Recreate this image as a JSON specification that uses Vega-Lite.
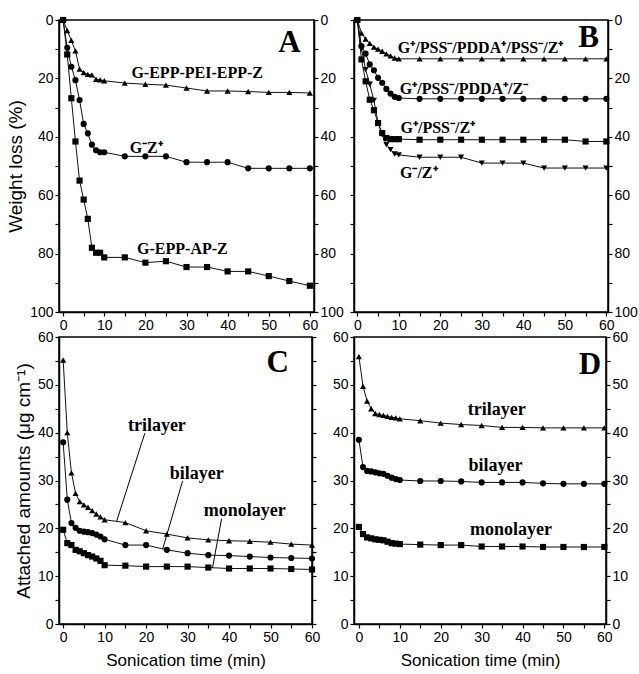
{
  "$schema": "https://vega.github.io/schema/vega-lite/v6.json",
  "background": "white",
  "padding": {"left": 5, "top": 12, "right": 1, "bottom": 5},
  "config": {
    "view": {"stroke": "black", "strokeWidth": 1.5},
    "axis": {
      "grid": false,
      "domainColor": "black",
      "domainWidth": 1.5,
      "tickColor": "black",
      "tickWidth": 1.2,
      "tickSize": 4,
      "labelColor": "black",
      "labelFont": "'Liberation Sans', Arial, sans-serif",
      "labelFontSize": 14,
      "labelPadding": 2,
      "labelFlush": false,
      "titleColor": "black",
      "titleFontWeight": "normal"
    },
    "axisX": {"titleFont": "'Liberation Sans', Arial, sans-serif", "titleFontSize": 17, "titlePadding": 8},
    "axisY": {"titleFont": "'Liberation Sans', Arial, sans-serif", "titleFontSize": 19, "titlePadding": 4}
  },
  "datasets": {
    "A": [
      {"t":0,"v":0,"s":"G-EPP-PEI-EPP-Z"},{"t":1,"v":3.6,"s":"G-EPP-PEI-EPP-Z"},{"t":2,"v":7,"s":"G-EPP-PEI-EPP-Z"},{"t":3,"v":10.6,"s":"G-EPP-PEI-EPP-Z"},{"t":4,"v":16.8,"s":"G-EPP-PEI-EPP-Z"},{"t":5,"v":18,"s":"G-EPP-PEI-EPP-Z"},{"t":6,"v":18.6,"s":"G-EPP-PEI-EPP-Z"},{"t":7,"v":18.8,"s":"G-EPP-PEI-EPP-Z"},{"t":8,"v":20.3,"s":"G-EPP-PEI-EPP-Z"},{"t":9,"v":20.5,"s":"G-EPP-PEI-EPP-Z"},{"t":10,"v":20.8,"s":"G-EPP-PEI-EPP-Z"},{"t":15,"v":21.6,"s":"G-EPP-PEI-EPP-Z"},{"t":20,"v":22,"s":"G-EPP-PEI-EPP-Z"},{"t":25,"v":22.3,"s":"G-EPP-PEI-EPP-Z"},{"t":30,"v":23.3,"s":"G-EPP-PEI-EPP-Z"},{"t":35,"v":24.3,"s":"G-EPP-PEI-EPP-Z"},{"t":40,"v":24.3,"s":"G-EPP-PEI-EPP-Z"},{"t":45,"v":24.5,"s":"G-EPP-PEI-EPP-Z"},{"t":50,"v":24.8,"s":"G-EPP-PEI-EPP-Z"},{"t":55,"v":24.8,"s":"G-EPP-PEI-EPP-Z"},{"t":60,"v":25,"s":"G-EPP-PEI-EPP-Z"},
      {"t":0,"v":0,"s":"G-Z+"},{"t":1,"v":9.5,"s":"G-Z+"},{"t":2,"v":16,"s":"G-Z+"},{"t":3,"v":20.6,"s":"G-Z+"},{"t":4,"v":27.4,"s":"G-Z+"},{"t":5,"v":35.6,"s":"G-Z+"},{"t":6,"v":38.8,"s":"G-Z+"},{"t":7,"v":42.7,"s":"G-Z+"},{"t":8,"v":44.6,"s":"G-Z+"},{"t":9,"v":45.3,"s":"G-Z+"},{"t":10,"v":45.3,"s":"G-Z+"},{"t":15,"v":46.7,"s":"G-Z+"},{"t":20,"v":46.7,"s":"G-Z+"},{"t":25,"v":46.7,"s":"G-Z+"},{"t":30,"v":48.7,"s":"G-Z+"},{"t":35,"v":48.7,"s":"G-Z+"},{"t":40,"v":48.7,"s":"G-Z+"},{"t":45,"v":50.8,"s":"G-Z+"},{"t":50,"v":50.8,"s":"G-Z+"},{"t":55,"v":50.8,"s":"G-Z+"},{"t":60,"v":50.8,"s":"G-Z+"},
      {"t":0,"v":0,"s":"G-EPP-AP-Z"},{"t":1,"v":11.8,"s":"G-EPP-AP-Z"},{"t":2,"v":26.8,"s":"G-EPP-AP-Z"},{"t":3,"v":41.6,"s":"G-EPP-AP-Z"},{"t":4,"v":55,"s":"G-EPP-AP-Z"},{"t":5,"v":61.5,"s":"G-EPP-AP-Z"},{"t":6,"v":68.1,"s":"G-EPP-AP-Z"},{"t":7,"v":78,"s":"G-EPP-AP-Z"},{"t":8,"v":79.7,"s":"G-EPP-AP-Z"},{"t":9,"v":79.7,"s":"G-EPP-AP-Z"},{"t":10,"v":81.3,"s":"G-EPP-AP-Z"},{"t":15,"v":81.3,"s":"G-EPP-AP-Z"},{"t":20,"v":83.1,"s":"G-EPP-AP-Z"},{"t":25,"v":82.6,"s":"G-EPP-AP-Z"},{"t":30,"v":84.6,"s":"G-EPP-AP-Z"},{"t":35,"v":84.6,"s":"G-EPP-AP-Z"},{"t":40,"v":86.1,"s":"G-EPP-AP-Z"},{"t":45,"v":86.1,"s":"G-EPP-AP-Z"},{"t":50,"v":87.7,"s":"G-EPP-AP-Z"},{"t":55,"v":89.4,"s":"G-EPP-AP-Z"},{"t":60,"v":91,"s":"G-EPP-AP-Z"}
    ],
    "B": [
      {"t":0,"v":0,"s":"P5"},{"t":1,"v":4.5,"s":"P5"},{"t":2,"v":6.5,"s":"P5"},{"t":3,"v":8,"s":"P5"},{"t":4,"v":9.3,"s":"P5"},{"t":5,"v":10,"s":"P5"},{"t":6,"v":10.7,"s":"P5"},{"t":7,"v":11.6,"s":"P5"},{"t":8,"v":12.3,"s":"P5"},{"t":9,"v":13,"s":"P5"},{"t":10,"v":13.3,"s":"P5"},{"t":15,"v":13.3,"s":"P5"},{"t":20,"v":13.3,"s":"P5"},{"t":25,"v":13.3,"s":"P5"},{"t":30,"v":13.3,"s":"P5"},{"t":35,"v":13.3,"s":"P5"},{"t":40,"v":13.3,"s":"P5"},{"t":45,"v":13.3,"s":"P5"},{"t":50,"v":13.3,"s":"P5"},{"t":55,"v":13.3,"s":"P5"},{"t":60,"v":13.3,"s":"P5"},
      {"t":0,"v":0,"s":"P4"},{"t":1,"v":8.9,"s":"P4"},{"t":2,"v":11.5,"s":"P4"},{"t":3,"v":15.2,"s":"P4"},{"t":4,"v":17.2,"s":"P4"},{"t":5,"v":19.8,"s":"P4"},{"t":6,"v":21.5,"s":"P4"},{"t":7,"v":23.6,"s":"P4"},{"t":8,"v":25.2,"s":"P4"},{"t":9,"v":26.3,"s":"P4"},{"t":10,"v":26.7,"s":"P4"},{"t":15,"v":27,"s":"P4"},{"t":20,"v":27,"s":"P4"},{"t":25,"v":27,"s":"P4"},{"t":30,"v":27,"s":"P4"},{"t":35,"v":27,"s":"P4"},{"t":40,"v":27,"s":"P4"},{"t":45,"v":27,"s":"P4"},{"t":50,"v":27,"s":"P4"},{"t":55,"v":27,"s":"P4"},{"t":60,"v":27,"s":"P4"},
      {"t":0,"v":0,"s":"P3"},{"t":1,"v":13.5,"s":"P3"},{"t":2,"v":21,"s":"P3"},{"t":3,"v":27.3,"s":"P3"},{"t":4,"v":30.9,"s":"P3"},{"t":5,"v":35.3,"s":"P3"},{"t":6,"v":38.7,"s":"P3"},{"t":7,"v":40.4,"s":"P3"},{"t":8,"v":40.8,"s":"P3"},{"t":9,"v":40.8,"s":"P3"},{"t":10,"v":40.8,"s":"P3"},{"t":15,"v":41,"s":"P3"},{"t":20,"v":41,"s":"P3"},{"t":25,"v":41,"s":"P3"},{"t":30,"v":41,"s":"P3"},{"t":35,"v":41,"s":"P3"},{"t":40,"v":41,"s":"P3"},{"t":45,"v":41,"s":"P3"},{"t":50,"v":41,"s":"P3"},{"t":55,"v":41.6,"s":"P3"},{"t":60,"v":41.6,"s":"P3"},
      {"t":0,"v":0,"s":"GZ"},{"t":1,"v":10,"s":"GZ"},{"t":2,"v":17,"s":"GZ"},{"t":3,"v":22,"s":"GZ"},{"t":4,"v":27.5,"s":"GZ"},{"t":5,"v":35.3,"s":"GZ"},{"t":6,"v":39.3,"s":"GZ"},{"t":7,"v":42.7,"s":"GZ"},{"t":8,"v":44.4,"s":"GZ"},{"t":9,"v":45.9,"s":"GZ"},{"t":10,"v":46.2,"s":"GZ"},{"t":15,"v":47,"s":"GZ"},{"t":20,"v":47,"s":"GZ"},{"t":25,"v":47,"s":"GZ"},{"t":30,"v":49,"s":"GZ"},{"t":35,"v":49,"s":"GZ"},{"t":40,"v":49,"s":"GZ"},{"t":45,"v":50.7,"s":"GZ"},{"t":50,"v":50.7,"s":"GZ"},{"t":55,"v":50.7,"s":"GZ"},{"t":60,"v":50.7,"s":"GZ"}
    ],
    "C": [
      {"t":0,"v":55.2,"s":"trilayer"},{"t":1,"v":40,"s":"trilayer"},{"t":2,"v":31.6,"s":"trilayer"},{"t":3,"v":27.3,"s":"trilayer"},{"t":4,"v":25.6,"s":"trilayer"},{"t":5,"v":24.9,"s":"trilayer"},{"t":6,"v":24.4,"s":"trilayer"},{"t":7,"v":23.7,"s":"trilayer"},{"t":8,"v":23,"s":"trilayer"},{"t":9,"v":22.4,"s":"trilayer"},{"t":10,"v":21.8,"s":"trilayer"},{"t":15,"v":21.2,"s":"trilayer"},{"t":20,"v":19.5,"s":"trilayer"},{"t":25,"v":18.8,"s":"trilayer"},{"t":30,"v":18,"s":"trilayer"},{"t":35,"v":17.6,"s":"trilayer"},{"t":40,"v":17.4,"s":"trilayer"},{"t":45,"v":17.3,"s":"trilayer"},{"t":50,"v":17.1,"s":"trilayer"},{"t":55,"v":16.7,"s":"trilayer"},{"t":60,"v":16.5,"s":"trilayer"},
      {"t":0,"v":38,"s":"bilayer"},{"t":1,"v":26,"s":"bilayer"},{"t":2,"v":21.1,"s":"bilayer"},{"t":3,"v":20.1,"s":"bilayer"},{"t":4,"v":19.5,"s":"bilayer"},{"t":5,"v":19.3,"s":"bilayer"},{"t":6,"v":19.2,"s":"bilayer"},{"t":7,"v":19,"s":"bilayer"},{"t":8,"v":18.7,"s":"bilayer"},{"t":9,"v":18.3,"s":"bilayer"},{"t":10,"v":17.7,"s":"bilayer"},{"t":15,"v":16.5,"s":"bilayer"},{"t":20,"v":16.5,"s":"bilayer"},{"t":25,"v":15.5,"s":"bilayer"},{"t":30,"v":14.8,"s":"bilayer"},{"t":35,"v":14.4,"s":"bilayer"},{"t":40,"v":14.3,"s":"bilayer"},{"t":45,"v":14.1,"s":"bilayer"},{"t":50,"v":13.9,"s":"bilayer"},{"t":55,"v":13.8,"s":"bilayer"},{"t":60,"v":13.7,"s":"bilayer"},
      {"t":0,"v":19.7,"s":"monolayer"},{"t":1,"v":16.9,"s":"monolayer"},{"t":2,"v":16.5,"s":"monolayer"},{"t":3,"v":15.5,"s":"monolayer"},{"t":4,"v":15.2,"s":"monolayer"},{"t":5,"v":14.8,"s":"monolayer"},{"t":6,"v":14.4,"s":"monolayer"},{"t":7,"v":14.1,"s":"monolayer"},{"t":8,"v":13.7,"s":"monolayer"},{"t":9,"v":13.2,"s":"monolayer"},{"t":10,"v":12.3,"s":"monolayer"},{"t":15,"v":12.2,"s":"monolayer"},{"t":20,"v":12,"s":"monolayer"},{"t":25,"v":12,"s":"monolayer"},{"t":30,"v":12,"s":"monolayer"},{"t":35,"v":11.8,"s":"monolayer"},{"t":40,"v":11.6,"s":"monolayer"},{"t":45,"v":11.6,"s":"monolayer"},{"t":50,"v":11.6,"s":"monolayer"},{"t":55,"v":11.5,"s":"monolayer"},{"t":60,"v":11.4,"s":"monolayer"}
    ],
    "D": [
      {"t":0,"v":55.9,"s":"trilayer"},{"t":1,"v":49.7,"s":"trilayer"},{"t":2,"v":46.6,"s":"trilayer"},{"t":3,"v":45,"s":"trilayer"},{"t":4,"v":44,"s":"trilayer"},{"t":5,"v":43.8,"s":"trilayer"},{"t":6,"v":43.6,"s":"trilayer"},{"t":7,"v":43.4,"s":"trilayer"},{"t":8,"v":43.2,"s":"trilayer"},{"t":9,"v":43.1,"s":"trilayer"},{"t":10,"v":42.9,"s":"trilayer"},{"t":15,"v":42.5,"s":"trilayer"},{"t":20,"v":42,"s":"trilayer"},{"t":25,"v":41.7,"s":"trilayer"},{"t":30,"v":41.5,"s":"trilayer"},{"t":35,"v":41.1,"s":"trilayer"},{"t":40,"v":41.1,"s":"trilayer"},{"t":45,"v":41,"s":"trilayer"},{"t":50,"v":41,"s":"trilayer"},{"t":55,"v":41,"s":"trilayer"},{"t":60,"v":41,"s":"trilayer"},
      {"t":0,"v":38.5,"s":"bilayer"},{"t":1,"v":32.8,"s":"bilayer"},{"t":2,"v":32,"s":"bilayer"},{"t":3,"v":31.9,"s":"bilayer"},{"t":4,"v":31.7,"s":"bilayer"},{"t":5,"v":31.5,"s":"bilayer"},{"t":6,"v":31.4,"s":"bilayer"},{"t":7,"v":31,"s":"bilayer"},{"t":8,"v":30.6,"s":"bilayer"},{"t":9,"v":30.3,"s":"bilayer"},{"t":10,"v":30.1,"s":"bilayer"},{"t":15,"v":29.9,"s":"bilayer"},{"t":20,"v":29.9,"s":"bilayer"},{"t":25,"v":29.8,"s":"bilayer"},{"t":30,"v":29.6,"s":"bilayer"},{"t":35,"v":29.6,"s":"bilayer"},{"t":40,"v":29.6,"s":"bilayer"},{"t":45,"v":29.4,"s":"bilayer"},{"t":50,"v":29.3,"s":"bilayer"},{"t":55,"v":29.3,"s":"bilayer"},{"t":60,"v":29.3,"s":"bilayer"},
      {"t":0,"v":20.3,"s":"monolayer"},{"t":1,"v":18.8,"s":"monolayer"},{"t":2,"v":18.1,"s":"monolayer"},{"t":3,"v":17.9,"s":"monolayer"},{"t":4,"v":17.7,"s":"monolayer"},{"t":5,"v":17.6,"s":"monolayer"},{"t":6,"v":17.5,"s":"monolayer"},{"t":7,"v":17.2,"s":"monolayer"},{"t":8,"v":16.9,"s":"monolayer"},{"t":9,"v":16.8,"s":"monolayer"},{"t":10,"v":16.7,"s":"monolayer"},{"t":15,"v":16.6,"s":"monolayer"},{"t":20,"v":16.5,"s":"monolayer"},{"t":25,"v":16.5,"s":"monolayer"},{"t":30,"v":16.2,"s":"monolayer"},{"t":35,"v":16.2,"s":"monolayer"},{"t":40,"v":16.2,"s":"monolayer"},{"t":45,"v":16.1,"s":"monolayer"},{"t":50,"v":16.1,"s":"monolayer"},{"t":55,"v":16.1,"s":"monolayer"},{"t":60,"v":16.1,"s":"monolayer"}
    ],
    "notes": [
      {"panel":"A","t":32.6,"v":18,"text":"G-EPP-PEI-EPP-Z"},
      {"panel":"A","t":20.2,"v":43.7,"text":"G⁻Z⁺"},
      {"panel":"A","t":29,"v":78.5,"text":"G-EPP-AP-Z"},
      {"panel":"B","t":29.7,"v":9.5,"text":"G⁺/PSS⁻/PDDA⁺/PSS⁻/Z⁺"},
      {"panel":"B","t":25.7,"v":23.5,"text":"G⁺/PSS⁻/PDDA⁺/Z⁻"},
      {"panel":"B","t":19.4,"v":37,"text":"G⁺/PSS⁻/Z⁺"},
      {"panel":"B","t":14.8,"v":52.5,"text":"G⁻/Z⁺"},
      {"panel":"C","t":22.6,"v":41.4,"text":"trilayer"},
      {"panel":"C","t":32.2,"v":31.4,"text":"bilayer"},
      {"panel":"C","t":43.8,"v":23.6,"text":"monolayer"},
      {"panel":"D","t":33.7,"v":44.7,"text":"trilayer"},
      {"panel":"D","t":33.4,"v":33,"text":"bilayer"},
      {"panel":"D","t":37.2,"v":19.7,"text":"monolayer"}
    ],
    "letters": [
      {"panel":"A","t":55,"v":7.9,"text":"A"},
      {"panel":"B","t":55.7,"v":6.2,"text":"B"},
      {"panel":"C","t":51.7,"v":54.6,"text":"C"},
      {"panel":"D","t":56.5,"v":54.2,"text":"D"}
    ],
    "pointers": [
      {"t":19.7,"v":39.9,"t2":12.9,"v2":21.5},
      {"t":28.8,"v":29.9,"t2":24,"v2":15.7},
      {"t":38.2,"v":22,"t2":36,"v2":11.7}
    ]
  },
  "concat": [
    {
      "width": 255, "height": 292,
      "layer": [
        {"data": {"name": "A"}, "mark": {"type": "line", "color": "#111", "strokeWidth": 1},
         "encoding": {
           "x": {"field": "t", "type": "quantitative", "scale": {"domain": [-1, 61], "nice": false, "zero": false},
                 "axis": {"orient": "bottom", "title": null, "values": [0,5,10,15,20,25,30,35,40,45,50,55,60], "labelExpr": "datum.value % 10 === 0 ? datum.label : ''"}},
           "y": {"field": "v", "type": "quantitative", "scale": {"domain": [0, 100], "reverse": true, "nice": false, "zero": false},
                 "axis": {"orient": "left", "title": "Weight loss (%)", "values": [0,10,20,30,40,50,60,70,80,90,100], "labelExpr": "datum.value % 20 === 0 ? datum.label : ''"}},
           "detail": {"field": "s"}}},
        {"data": {"name": "A"}, "mark": {"type": "point", "filled": true, "color": "black", "opacity": 1, "size": 38},
         "encoding": {
           "x": {"field": "t", "type": "quantitative", "axis": null},
           "y": {"field": "v", "type": "quantitative",
                 "axis": {"orient": "right", "title": null, "values": [0,10,20,30,40,50,60,70,80,90,100], "labelExpr": "datum.value % 20 === 0 ? datum.label : ''"}},
           "shape": {"field": "s", "type": "nominal", "legend": null,
                     "scale": {"domain": ["G-EPP-PEI-EPP-Z", "G-Z+", "G-EPP-AP-Z"], "range": ["triangle-up", "circle", "square"]}}}},
        {"data": {"name": "notes"}, "transform": [{"filter": "datum.panel === 'A'"}],
         "mark": {"type": "text", "font": "'Liberation Serif', 'Times New Roman', serif", "fontWeight": "bold", "fontSize": 16, "align": "center", "baseline": "middle"},
         "encoding": {"x": {"field": "t", "type": "quantitative", "axis": null}, "y": {"field": "v", "type": "quantitative", "axis": null}, "text": {"field": "text"}}},
        {"data": {"name": "letters"}, "transform": [{"filter": "datum.panel === 'A'"}],
         "mark": {"type": "text", "font": "'Liberation Serif', 'Times New Roman', serif", "fontWeight": "bold", "fontSize": 31, "align": "center", "baseline": "middle"},
         "encoding": {"x": {"field": "t", "type": "quantitative", "axis": null}, "y": {"field": "v", "type": "quantitative", "axis": null}, "text": {"field": "text"}}}
      ],
      "resolve": {"axis": {"x": "independent", "y": "independent"}}
    },
    {
      "width": 254, "height": 292,
      "layer": [
        {"data": {"name": "B"}, "mark": {"type": "line", "color": "#111", "strokeWidth": 1},
         "encoding": {
           "x": {"field": "t", "type": "quantitative", "scale": {"domain": [-0.8, 60.4], "nice": false, "zero": false},
                 "axis": {"orient": "bottom", "title": null, "values": [0,5,10,15,20,25,30,35,40,45,50,55,60], "labelExpr": "datum.value % 10 === 0 ? datum.label : ''"}},
           "y": {"field": "v", "type": "quantitative", "scale": {"domain": [0, 100], "reverse": true, "nice": false, "zero": false},
                 "axis": {"orient": "left", "title": null, "labels": false, "values": [0,10,20,30,40,50,60,70,80,90,100]}},
           "detail": {"field": "s"}}},
        {"data": {"name": "B"}, "mark": {"type": "point", "filled": true, "color": "black", "opacity": 1, "size": 38},
         "encoding": {
           "x": {"field": "t", "type": "quantitative", "axis": null},
           "y": {"field": "v", "type": "quantitative",
                 "axis": {"orient": "right", "title": null, "values": [0,10,20,30,40,50,60,70,80,90,100], "labelExpr": "datum.value % 20 === 0 ? datum.label : ''"}},
           "shape": {"field": "s", "type": "nominal", "legend": null,
                     "scale": {"domain": ["P5", "P4", "P3", "GZ"], "range": ["triangle-up", "circle", "square", "triangle-down"]}}}},
        {"data": {"name": "notes"}, "transform": [{"filter": "datum.panel === 'B'"}],
         "mark": {"type": "text", "font": "'Liberation Serif', 'Times New Roman', serif", "fontWeight": "bold", "fontSize": 16, "align": "center", "baseline": "middle"},
         "encoding": {"x": {"field": "t", "type": "quantitative", "axis": null}, "y": {"field": "v", "type": "quantitative", "axis": null}, "text": {"field": "text"}}},
        {"data": {"name": "letters"}, "transform": [{"filter": "datum.panel === 'B'"}],
         "mark": {"type": "text", "font": "'Liberation Serif', 'Times New Roman', serif", "fontWeight": "bold", "fontSize": 31, "align": "center", "baseline": "middle"},
         "encoding": {"x": {"field": "t", "type": "quantitative", "axis": null}, "y": {"field": "v", "type": "quantitative", "axis": null}, "text": {"field": "text"}}}
      ],
      "resolve": {"axis": {"x": "independent", "y": "independent"}}
    },
    {
      "width": 253, "height": 287,
      "layer": [
        {"data": {"name": "C"}, "mark": {"type": "line", "color": "#111", "strokeWidth": 1},
         "encoding": {
           "x": {"field": "t", "type": "quantitative", "scale": {"domain": [-1, 60], "nice": false, "zero": false},
                 "axis": {"orient": "bottom", "title": "Sonication time (min)", "values": [0,5,10,15,20,25,30,35,40,45,50,55,60], "labelExpr": "datum.value % 10 === 0 ? datum.label : ''"}},
           "y": {"field": "v", "type": "quantitative", "scale": {"domain": [0, 60], "nice": false, "zero": false},
                 "axis": {"orient": "left", "title": "Attached amounts (μg cm⁻¹)", "values": [0,5,10,15,20,25,30,35,40,45,50,55,60], "labelExpr": "datum.value % 10 === 0 ? datum.label : ''"}},
           "detail": {"field": "s"}}},
        {"data": {"name": "C"}, "mark": {"type": "point", "filled": true, "color": "black", "opacity": 1, "size": 38},
         "encoding": {
           "x": {"field": "t", "type": "quantitative", "axis": null},
           "y": {"field": "v", "type": "quantitative",
                 "axis": {"orient": "right", "title": null, "labels": false, "values": [0,5,10,15,20,25,30,35,40,45,50,55,60]}},
           "shape": {"field": "s", "type": "nominal", "legend": null,
                     "scale": {"domain": ["trilayer", "bilayer", "monolayer"], "range": ["triangle-up", "circle", "square"]}}}},
        {"data": {"name": "pointers"}, "mark": {"type": "rule", "color": "black", "strokeWidth": 1},
         "encoding": {"x": {"field": "t", "type": "quantitative", "axis": null}, "y": {"field": "v", "type": "quantitative", "axis": null},
                      "x2": {"field": "t2"}, "y2": {"field": "v2"}}},
        {"data": {"name": "notes"}, "transform": [{"filter": "datum.panel === 'C'"}],
         "mark": {"type": "text", "font": "'Liberation Serif', 'Times New Roman', serif", "fontWeight": "bold", "fontSize": 18, "align": "center", "baseline": "middle"},
         "encoding": {"x": {"field": "t", "type": "quantitative", "axis": null}, "y": {"field": "v", "type": "quantitative", "axis": null}, "text": {"field": "text"}}},
        {"data": {"name": "letters"}, "transform": [{"filter": "datum.panel === 'C'"}],
         "mark": {"type": "text", "font": "'Liberation Serif', 'Times New Roman', serif", "fontWeight": "bold", "fontSize": 31, "align": "center", "baseline": "middle"},
         "encoding": {"x": {"field": "t", "type": "quantitative", "axis": null}, "y": {"field": "v", "type": "quantitative", "axis": null}, "text": {"field": "text"}}}
      ],
      "resolve": {"axis": {"x": "independent", "y": "independent"}}
    },
    {
      "width": 252, "height": 287,
      "layer": [
        {"data": {"name": "D"}, "mark": {"type": "line", "color": "#111", "strokeWidth": 1},
         "encoding": {
           "x": {"field": "t", "type": "quantitative", "scale": {"domain": [-1.2, 60.4], "nice": false, "zero": false},
                 "axis": {"orient": "bottom", "title": "Sonication time (min)", "values": [0,5,10,15,20,25,30,35,40,45,50,55,60], "labelExpr": "datum.value % 10 === 0 ? datum.label : ''"}},
           "y": {"field": "v", "type": "quantitative", "scale": {"domain": [0, 60], "nice": false, "zero": false},
                 "axis": {"orient": "left", "title": null, "values": [0,5,10,15,20,25,30,35,40,45,50,55,60], "labelExpr": "datum.value % 10 === 0 ? datum.label : ''"}},
           "detail": {"field": "s"}}},
        {"data": {"name": "D"}, "mark": {"type": "point", "filled": true, "color": "black", "opacity": 1, "size": 38},
         "encoding": {
           "x": {"field": "t", "type": "quantitative", "axis": null},
           "y": {"field": "v", "type": "quantitative",
                 "axis": {"orient": "right", "title": null, "values": [0,5,10,15,20,25,30,35,40,45,50,55,60], "labelExpr": "datum.value % 10 === 0 ? datum.label : ''"}},
           "shape": {"field": "s", "type": "nominal", "legend": null,
                     "scale": {"domain": ["trilayer", "bilayer", "monolayer"], "range": ["triangle-up", "circle", "square"]}}}},
        {"data": {"name": "notes"}, "transform": [{"filter": "datum.panel === 'D'"}],
         "mark": {"type": "text", "font": "'Liberation Serif', 'Times New Roman', serif", "fontWeight": "bold", "fontSize": 18, "align": "center", "baseline": "middle"},
         "encoding": {"x": {"field": "t", "type": "quantitative", "axis": null}, "y": {"field": "v", "type": "quantitative", "axis": null}, "text": {"field": "text"}}},
        {"data": {"name": "letters"}, "transform": [{"filter": "datum.panel === 'D'"}],
         "mark": {"type": "text", "font": "'Liberation Serif', 'Times New Roman', serif", "fontWeight": "bold", "fontSize": 31, "align": "center", "baseline": "middle"},
         "encoding": {"x": {"field": "t", "type": "quantitative", "axis": null}, "y": {"field": "v", "type": "quantitative", "axis": null}, "text": {"field": "text"}}}
      ],
      "resolve": {"axis": {"x": "independent", "y": "independent"}}
    }
  ],
  "columns": 2,
  "spacing": {"row": 25, "column": 40},
  "bounds": "flush",
  "resolve": {"scale": {"shape": "independent"}}
}
